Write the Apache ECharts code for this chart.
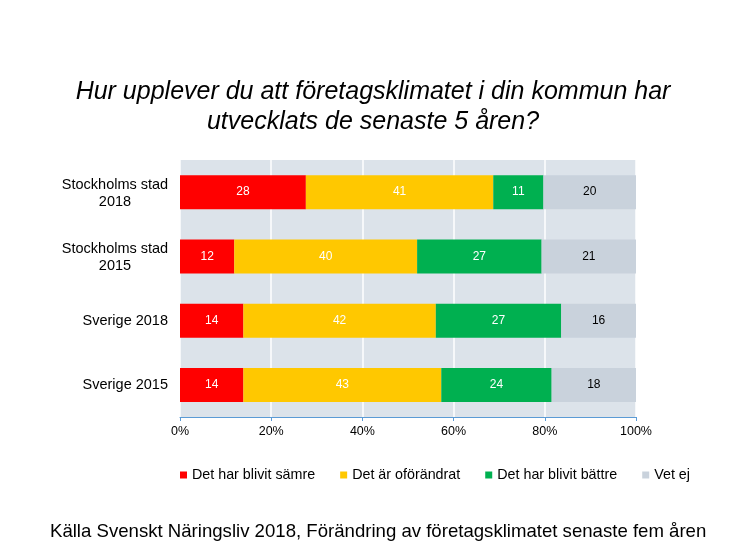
<!DOCTYPE html>
<html><head><meta charset="utf-8">
<script src="https://cdn.jsdelivr.net/npm/echarts@6/dist/echarts.min.js"></script>
<style>html,body{margin:0;padding:0;background:#fff}#c{width:746px;height:560px}</style>
</head><body><div id="c"></div>
<script>
var categories = ['Stockholms stad\n2018', 'Stockholms stad\n2015', 'Sverige 2018', 'Sverige 2015'];
var seriesNames = ['Det har blivit sämre', 'Det är oförändrat', 'Det har blivit bättre', 'Vet ej'];
var samre = [27.6, 11.9, 13.9, 13.9];
var oforandrat = [41.1, 40.1, 42.2, 43.4];
var battre = [11.0, 27.3, 27.5, 24.2];
var vetej = [20.3, 20.7, 16.4, 18.5];
var labelsShown = [[28, 12, 14, 14], [41, 40, 42, 43], [11, 27, 27, 24], [20, 21, 16, 18]];
var colors = ['#ff0000', '#ffc800', '#00b050', '#c9d2dc'];
var titleLines = 'Hur upplever du att företagsklimatet i din kommun har\nutvecklats de senaste 5 åren?';
var sourceText = 'Källa Svenskt Näringsliv 2018, Förändring av företagsklimatet senaste fem åren';

var chart = echarts.init(document.getElementById('c'));
var dataSets = [samre, oforandrat, battre, vetej];
var series = dataSets.map(function (d, i) {
  return {
    name: seriesNames[i], type: 'bar', stack: 'tot', data: d,
    barWidth: 34,
    itemStyle: { color: colors[i] },
    label: {
      show: true, position: 'inside', fontFamily: 'Liberation Sans', fontSize: 12,
      color: i === 3 ? '#000' : '#fff',
      formatter: function (p) { return labelsShown[i][p.dataIndex]; }
    }
  };
});
chart.setOption({
  animation: false,
  color: colors,
  title: [{
    text: titleLines, left: 'center', top: 72,
    textStyle: { fontFamily: 'Liberation Sans', fontStyle: 'italic', fontWeight: 'normal', fontSize: 25, color: '#000', lineHeight: 30 }
  }, {
    text: sourceText, left: 45, top: 517,
    textStyle: { fontFamily: 'Liberation Sans', fontWeight: 'normal', fontSize: 18.6, color: '#000' }
  }],
  legend: {
    data: seriesNames, top: 463, left: 175, itemGap: 25,
    itemWidth: 7, itemHeight: 7, icon: 'rect',
    textStyle: { fontFamily: 'Liberation Sans', fontSize: 14.3, color: '#000' }
  },
  grid: { left: 180, right: 110, top: 160, bottom: 143, show: true, backgroundColor: '#dce3ea', borderWidth: 0 },
  xAxis: {
    type: 'value', min: 0, max: 100, interval: 20,
    axisLine: { show: true, lineStyle: { color: '#5b9bd5', width: 1 } },
    axisTick: { show: true, length: 4, lineStyle: { color: '#5b9bd5' } },
    axisLabel: { formatter: '{value}%', fontFamily: 'Liberation Sans', fontSize: 12.5, color: '#000', margin: 8 },
    splitLine: { show: true, lineStyle: { color: '#ffffff', width: 1.5 } }
  },
  yAxis: {
    type: 'category', data: categories, inverse: true,
    axisLine: { show: false }, axisTick: { show: false },
    axisLabel: {
      fontFamily: 'Liberation Sans', fontSize: 14.5, color: '#000', margin: 12, lineHeight: 17, align: 'right',
      formatter: function (v) {
        if (v.indexOf('\n') < 0) return v;
        return v.split('\n').map(function (s) { return '{c|' + s + '}'; }).join('\n');
      },
      rich: { c: { width: 106, align: 'center', fontFamily: 'Liberation Sans', fontSize: 14.5, lineHeight: 17, color: '#000', padding: [2, 0, 0, 0] } }
    }
  },
  series: series
});
</script></body></html>
